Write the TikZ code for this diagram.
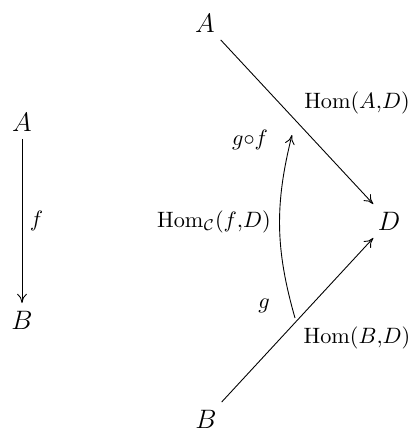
\documentclass[tikz,border=0pt]{standalone}
\usepackage{amsmath}
\usepackage{tikz}
\usetikzlibrary{arrows.meta}

\begin{document}
\begin{tikzpicture}[x=0.45pt, y=-0.45pt,
  obj/.style={font=\large},
  lbl/.style={font=\normalsize},
  arrow/.style={-{To[length=4.2pt, width=4.4pt]}}
]
\useasboundingbox (0,0) rectangle (411,428);

%% ---- LEFT: the map f ----
\node[obj] at (22,122)  (a)  {$A$};
\node[obj] at (22,320)  (b)  {$B$};

%% ---- RIGHT: maps into D ----
\node[obj] at (205,23)  (ha) {$A$};
\node[obj] at (206,419) (hb) {$B$};
\node[obj] at (389,221) (hd) {$D$};
\coordinate (gs) at (295,318);
\coordinate (ge) at (292,135);

%% ---- Arrows ----
\draw[arrow] (a)  -- node[right]{$f$} (b);
\draw[arrow] (ha) -- (hd);
\draw[arrow] (hb) -- (hd);
\draw[arrow] (gs) to[bend left=15] (ge);

%% ---- Labels ----
\node[lbl] at (357,103) (lad) {$\mathrm{Hom}(A{,}D)$};
\node[lbl] at (357,338) (lbd) {$\mathrm{Hom}(B{,}D)$};
\node[lbl] at (250,140) (lgf) {$g{\circ}f$};
\node[lbl] at (214,222) (lhc) {$\mathrm{Hom}_{\mathcal{C}}(f{,}D)$};
\node[lbl] at (264,306) (lg)  {$g$};
\end{tikzpicture}
\end{document}
